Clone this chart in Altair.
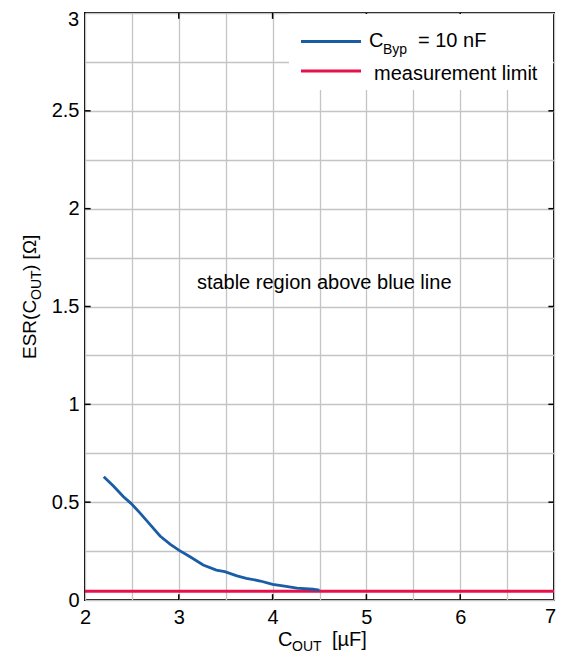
import altair as alt
import pandas as pd

# ---- data ----
byp_x = [2.20, 2.30, 2.41, 2.49, 2.59, 2.69, 2.80, 2.91, 3.00, 3.12, 3.26, 3.40,
         3.49, 3.62, 3.72, 3.87, 4.00, 4.11, 4.26, 4.43, 4.50]
byp_y = [0.630, 0.584, 0.528, 0.494, 0.443, 0.388, 0.327, 0.284, 0.255, 0.221,
         0.179, 0.153, 0.145, 0.123, 0.111, 0.097, 0.080, 0.072, 0.061, 0.055, 0.051]
limit_x = [2.0, 7.0]
limit_y = [0.045, 0.045]

x_grid = [2, 2.5, 3, 3.5, 4, 4.5, 5, 5.5, 6, 6.5, 7]
y_grid = [0, 0.25, 0.5, 0.75, 1, 1.25, 1.5, 1.75, 2, 2.25, 2.5, 2.75, 3]
x_ticks = [3, 4, 5, 6]
y_ticks = [0.5, 1, 1.5, 2, 2.5]
y_top_label = "3"
x_right_label = "7"

annotation = "stable region above blue line"
legend_labels = ["C", "Byp", "= 10 nF", "measurement limit"]

BLUE = "#1a5da6"
RED = "#e8104a"
FONT = "Liberation Sans"

xs = alt.Scale(domain=[2, 7], nice=False, zero=False)
ys = alt.Scale(domain=[0, 3], nice=False, zero=False)

x_axis = alt.Axis(values=x_grid, title=None, format="~g",
                  labelExpr="(datum.value % 1 == 0 && datum.value < 7) ? datum.label : ''",
                  ticks=False, tickSize=0, domain=False, grid=True,
                  gridColor="#c4c4c4", gridWidth=1.3, labelOverlap=False,
                  labelFlush=False, labelPadding=7)
y_axis = alt.Axis(values=y_grid, title=None, format=".2~f",
                  labelExpr="((datum.value * 2) % 1 == 0 && datum.value < 3) ? datum.label : ''",
                  ticks=False, tickSize=0, domain=False, grid=True,
                  gridColor="#c4c4c4", gridWidth=1.3, labelOverlap=False,
                  labelFlush=False, labelPadding=6)

base_df = pd.DataFrame({"x": [2], "y": [0]})
axes_layer = alt.Chart(base_df).mark_point(opacity=0).encode(
    x=alt.X("x:Q", scale=xs, axis=x_axis),
    y=alt.Y("y:Q", scale=ys, axis=y_axis),
)

# edge labels drawn as text so they are not cut by the page edge
top_lab_df = pd.DataFrame({"x": [2], "y": [3], "t": [y_top_label]})
top_lab = alt.Chart(top_lab_df).mark_text(font=FONT, fontSize=20, align="right",
                                          baseline="top", dx=-6, dy=-3,
                                          color="black").encode(
    x=alt.X("x:Q", scale=xs), y=alt.Y("y:Q", scale=ys), text="t:N")
right_lab_df = pd.DataFrame({"x": [7], "y": [0], "t": [x_right_label]})
right_lab = alt.Chart(right_lab_df).mark_text(font=FONT, fontSize=20, align="right",
                                              baseline="top", dx=2, dy=7,
                                              color="black").encode(
    x=alt.X("x:Q", scale=xs), y=alt.Y("y:Q", scale=ys), text="t:N")

top_df = pd.DataFrame({"x": x_ticks, "y": [3] * len(x_ticks), "y2": [2.97] * len(x_ticks)})
top_ticks = alt.Chart(top_df).mark_rule(color="black", strokeWidth=1.5).encode(
    x=alt.X("x:Q", scale=xs), y=alt.Y("y:Q", scale=ys), y2="y2:Q")

legend_bg = alt.Chart(base_df).mark_rect(color="white").encode(
    x=alt.value(204), x2=alt.value(468), y=alt.value(1), y2=alt.value(77))

limit_df = pd.DataFrame({"x": limit_x, "y": limit_y})
limit_line = alt.Chart(limit_df).mark_line(color=RED, strokeWidth=3).encode(
    x=alt.X("x:Q", scale=xs), y=alt.Y("y:Q", scale=ys))

byp_df = pd.DataFrame({"x": byp_x, "y": byp_y})
byp_line = alt.Chart(byp_df).mark_line(color=BLUE, strokeWidth=2.8).encode(
    x=alt.X("x:Q", scale=xs), y=alt.Y("y:Q", scale=ys))

bot_df = pd.DataFrame({"x": x_ticks, "y": [0] * len(x_ticks), "y2": [0.03] * len(x_ticks)})
bot_ticks = alt.Chart(bot_df).mark_rule(color="black", strokeWidth=1.5).encode(
    x=alt.X("x:Q", scale=xs), y=alt.Y("y:Q", scale=ys), y2="y2:Q")
left_df = pd.DataFrame({"y": y_ticks, "x": [2] * len(y_ticks), "x2": [2.06] * len(y_ticks)})
left_ticks = alt.Chart(left_df).mark_rule(color="black", strokeWidth=1.5).encode(
    y=alt.Y("y:Q", scale=ys), x=alt.X("x:Q", scale=xs), x2="x2:Q")
right_df = pd.DataFrame({"y": y_ticks, "x": [7] * len(y_ticks), "x2": [6.94] * len(y_ticks)})
right_ticks = alt.Chart(right_df).mark_rule(color="black", strokeWidth=1.5).encode(
    y=alt.Y("y:Q", scale=ys), x=alt.X("x:Q", scale=xs), x2="x2:Q")

ann_df = pd.DataFrame({"x": [4.55], "y": [1.59], "t": [annotation]})
ann = alt.Chart(ann_df).mark_text(font=FONT, fontSize=20, align="center",
                                  baseline="alphabetic", color="black").encode(
    x=alt.X("x:Q", scale=xs), y=alt.Y("y:Q", scale=ys), text="t:N")

def txt(s, x, y, size=20, angle=None):
    kw = dict(font=FONT, fontSize=size, align="left", baseline="alphabetic", color="black")
    if angle is not None:
        kw["angle"] = angle
    return alt.Chart(base_df).mark_text(**kw).encode(
        x=alt.value(x), y=alt.value(y), text=alt.value(s))

leg_blue = alt.Chart(base_df).mark_rule(color=BLUE, strokeWidth=2.8).encode(
    x=alt.value(216), x2=alt.value(276), y=alt.value(28.5))
leg_red = alt.Chart(base_df).mark_rule(color=RED, strokeWidth=3).encode(
    x=alt.value(216), x2=alt.value(276), y=alt.value(58))
leg_t1 = txt(legend_labels[0], 284, 34)
leg_t2 = txt(legend_labels[1], 298, 40.5, size=14)
leg_t3 = txt(legend_labels[2], 333, 34)
leg_t4 = txt(legend_labels[3], 289, 67)

xt1 = txt("C", 193, 633)
xt2 = txt("OUT", 207, 637.5, size=14)
xt3 = txt("[µF]", 247, 633)

yt1 = txt("ESR(C", -49, 346, size=19, angle=270)
yt2 = txt("OUT", -44, 287, size=14, angle=270)
yt3 = txt(") [Ω]", -49, 258, size=19, angle=270)

chart = alt.layer(
    axes_layer, top_ticks, legend_bg, limit_line, byp_line,
    bot_ticks, left_ticks, right_ticks, ann, top_lab, right_lab,
    leg_blue, leg_red, leg_t1, leg_t2, leg_t3, leg_t4,
    xt1, xt2, xt3, yt1, yt2, yt3,
).properties(
    width=469, height=587,
    autosize=alt.AutoSizeParams(type="none"),
    padding={"left": 77, "top": 5, "right": 3, "bottom": 54},
).configure_view(
    stroke="black", strokeWidth=2
).configure_axis(
    labelFont=FONT, labelFontSize=20, labelColor="black"
)

chart.save("out.html", embed_options={"renderer": "svg", "actions": False})
